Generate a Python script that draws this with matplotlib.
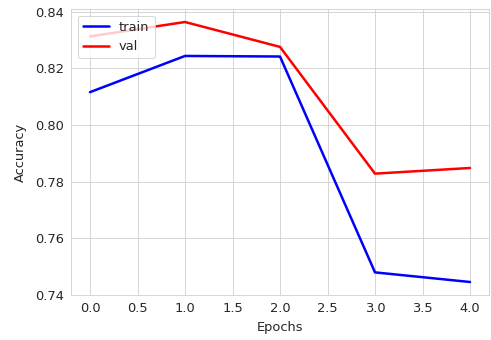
import matplotlib
matplotlib.use("Agg")
import matplotlib.pyplot as plt
import seaborn as sns

epochs = [0, 1, 2, 3, 4]
train_acc = [0.8116, 0.8244, 0.8242, 0.7479, 0.7445]
val_acc = [0.8313, 0.8364, 0.8276, 0.7828, 0.7848]

sns.set_style("whitegrid")

fig = plt.figure(figsize=(491 / 72, 340 / 72), dpi=72)
ax = fig.add_subplot(111)
fig.subplots_adjust(left=71 / 491, right=489 / 491, top=1 - 9 / 340, bottom=1 - 295 / 340)

ax.plot(epochs, train_acc, color="blue", lw=2.5, label="train")
ax.plot(epochs, val_acc, color="red", lw=2.5, label="val")

ax.set_xlabel("Epochs", fontsize=13, labelpad=6)
ax.set_ylabel("Accuracy", fontsize=13, labelpad=8)
ax.tick_params(labelsize=13)
ax.legend(loc="upper left", fontsize=13)

fig.savefig("out.png", dpi=72)
